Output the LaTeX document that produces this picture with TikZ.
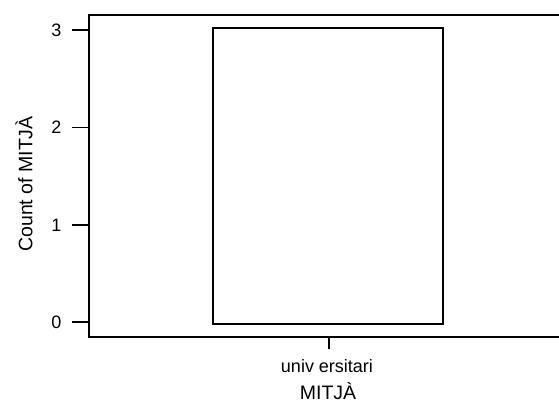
\documentclass[tikz,border=0pt]{standalone}
\usepackage{fontspec}
\setmainfont{Liberation Sans}
\begin{document}
\begin{tikzpicture}[x=1pt,y=-1pt,
  axisline/.style={line width=2pt},
  tickline/.style={line width=1.6pt},
  barbox/.style={draw,line width=1.8pt,fill=white},
  ticklabel/.style={inner sep=0pt,font=\fontsize{18}{18}\selectfont},
  axistitle/.style={inner sep=0pt,font=\fontsize{19.5}{19.5}\selectfont}]
\useasboundingbox (0,0) rectangle (559,403);
% frame
\coordinate (tl) at (89,15.5);
\coordinate (bl) at (89,336.5);
\coordinate (tr) at (559,15.5);
\coordinate (br) at (559,336.5);
\draw[axisline] (tr) -- (tl) -- (bl) -- (br);
% bar
\node[barbox,minimum width=230pt,minimum height=296pt,inner sep=0pt] (bar) at (328,176) {};
% y ticks
\foreach \v/\yy in {0/322,1/225,2/127.5,3/30}{
  \coordinate (yt\v) at (72,\yy);
  \coordinate (ya\v) at (89,\yy);
  \draw[tickline] (yt\v) -- (ya\v);
  \node[ticklabel] (yl\v) at (56.5,\yy) {\v};
}
% x tick
\coordinate (xt0) at (329,336.5);
\coordinate (xt1) at (329,349);
\draw[tickline] (xt0) -- (xt1);
\node[ticklabel] (xl) at (327,366) {univ ersitari};
\node[axistitle] (xtitle) at (328,391) {MITJÀ};
\node[axistitle,rotate=90] (ytitle) at (24,184) {Count of MITJÀ};
\end{tikzpicture}
\end{document}
